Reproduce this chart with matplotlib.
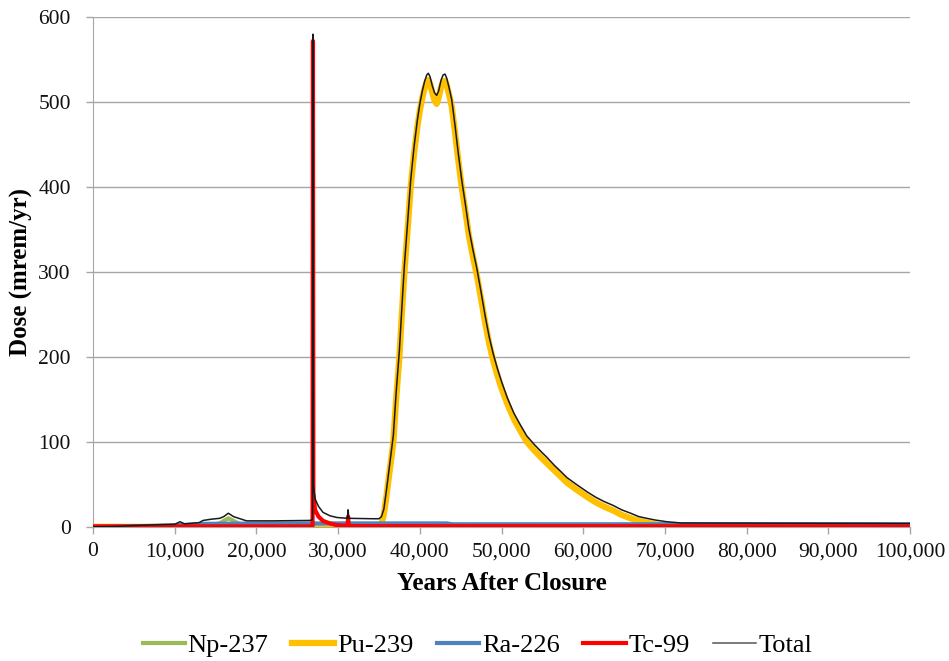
import matplotlib.pyplot as plt
from matplotlib.ticker import FuncFormatter

plt.rcParams['font.family'] = ['Liberation Serif', 'DejaVu Serif']

# dose by nuclide (mrem/yr) vs years after closure
np_years = [0, 5000, 12000, 14000, 15500, 16000, 16600, 17200, 18000, 19000, 22000, 26800, 27000, 35000, 100000]
np_dose = [0, 0.2, 0.5, 1.5, 4, 7, 10, 7, 3, 1.5, 1, 1, 0.5, 0.3, 0.2]

pu_years = [0, 35000, 35300, 35600, 35900, 36200, 36500, 36760, 37100, 37500, 37800, 38110,
            38500, 38880, 39300, 39700, 40000, 40300, 40600, 40850, 41040, 41250, 41500, 41800,
            42060, 42300, 42600, 42850, 43080, 43300, 43600, 43900, 44300, 44700, 45130, 45600,
            46000, 46500, 46960, 47500, 48000, 48500, 49000, 49500, 50000, 50700, 51500, 52300,
            53090, 54000, 55000, 55530, 56500, 57160, 58000, 59000, 59600, 60500, 61500, 62500,
            63700, 64700, 65800, 66800, 67770, 68800, 70200, 72000, 100000]
pu_dose = [0, 0, 3, 15, 35, 58, 80, 100, 150, 200, 250, 300,
           350, 400, 440, 471, 490, 505, 517, 524, 526, 522, 512, 502,
           498, 505, 518, 524, 525, 520, 508, 495, 465, 432, 400, 370,
           343, 318, 297, 268, 240, 215, 195, 178, 163, 145, 127, 113,
           100, 90, 80, 75, 66, 60, 52, 45, 41, 35, 29, 24,
           19, 14, 10, 7, 5, 3, 1, 0.3, 0]

ra_years = [0, 3000, 6000, 9000, 12000, 13500, 20000, 30000, 40000, 43300, 44000, 60000, 100000]
ra_dose = [0, 0.3, 0.8, 1.5, 2.5, 3.5, 3.8, 4, 4, 4, 3, 3, 3]

tc_years = [0, 10000, 26800, 26870, 26920, 26970, 27170, 27600, 28150, 29000, 29830, 31150,
            31220, 31300, 33000, 100000]
tc_dose = [0.5, 0.5, 0.5, 1, 572, 40, 20, 12, 7, 4, 2, 1,
           12, 1, 0.8, 0.5]

total_years = [0, 3000, 5000, 8000, 10000, 10650, 11200, 13000, 13470, 14500, 15500, 16000,
               16560, 17200, 18800, 22000, 26500, 26800, 26870, 26920, 26970, 27170, 27600,
               28150, 29000, 29830, 31150, 31220, 31300, 34270,
               35000, 35300, 35600, 35900, 36200, 36500, 36760, 37100, 37500, 37800, 38110,
               38500, 38880, 39300, 39700, 40000, 40300, 40600, 40850, 41040, 41250, 41500, 41800,
               42060, 42300, 42600, 42850, 43080, 43300, 43600, 43900, 44300, 44700, 45130, 45600,
               46000, 46500, 46960, 47500, 48000, 48500, 49000, 49500, 50000, 50700, 51500, 52300,
               53090, 54000, 55000, 55530, 56500, 57160, 58000, 59000, 59600, 60500, 61500, 62500,
               63700, 64700, 65800, 66800, 67770, 68800, 70200, 72000, 100000]
total_dose = [0, 0.5, 1.5, 2.5, 3, 6, 3.5, 5, 7.5, 9, 10, 12,
              16, 12, 7, 7, 7.5, 8, 10, 580, 50, 33, 24,
              17, 13, 11, 10, 20, 10, 9.5,
              9.5, 12, 21, 42, 65, 88, 108, 158, 208, 258, 308,
              358, 408, 448, 479, 498, 513, 525, 532, 534, 530, 520, 511,
              508, 513, 526, 532, 533, 528, 516, 503, 473, 440, 408, 378,
              351, 326, 305, 276, 248, 223, 203, 186, 171, 152, 134, 120,
              107, 97, 87, 82, 72, 66, 58, 51, 47, 41, 35, 30,
              25, 20, 16, 12, 10, 8, 6, 4.5, 4]

x_ticks = list(range(0, 100001, 10000))
y_ticks = [0, 100, 200, 300, 400, 500, 600]

fig = plt.figure(figsize=(9.49, 6.61), dpi=100)
ax = fig.add_axes([0.098, 0.203, 0.861, 0.771])

grid_col = '#a6a6a6'
ax.plot(np_years, np_dose, color='#9bbb59', lw=3, label='Np-237', zorder=3)
ax.plot(pu_years, pu_dose, color='#ffc000', lw=4.5, label='Pu-239', zorder=4)
ax.plot(ra_years, ra_dose, color='#4f81bd', lw=3, label='Ra-226', zorder=5)
ax.plot(tc_years, tc_dose, color='#ff0000', lw=3, label='Tc-99', zorder=6)
ax.plot(total_years, total_dose, color='#1a1a1a', lw=1.1, label='Total', zorder=7)

ax.set_xlim(0, 100000)
ax.set_ylim(0, 600)
ax.set_xticks(x_ticks)
ax.set_yticks(y_ticks)
ax.xaxis.set_major_formatter(FuncFormatter(lambda v, p: f'{int(v):,}'))
ax.tick_params(axis='both', labelsize=15.5, colors=grid_col, labelcolor='#111111',
               length=5, width=1, direction='out')
ax.tick_params(axis='x', pad=6)
ax.tick_params(axis='y', pad=11)
ax.grid(axis='y', color=grid_col, lw=1)
ax.set_axisbelow(True)
for side in ['top', 'right']:
    ax.spines[side].set_visible(False)
for side in ['left', 'bottom']:
    ax.spines[side].set_color(grid_col)

ax.set_xlabel('Years After Closure', fontsize=18, fontweight='bold', labelpad=8)
ax.set_ylabel('Dose (mrem/yr)', fontsize=18, fontweight='bold', labelpad=4)

leg = fig.legend(loc='center', bbox_to_anchor=(0.503, 0.024), ncol=5, frameon=False,
                 fontsize=19, handlelength=1.6, handletextpad=0.1, columnspacing=0.9)
leg.get_lines()[4].set_color('#555555')

fig.savefig('out.png', dpi=100)
